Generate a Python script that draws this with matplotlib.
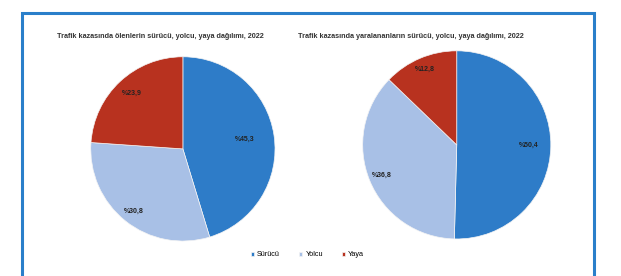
import matplotlib.pyplot as plt
from matplotlib.patches import Rectangle

plt.rcParams['font.family'] = ['Liberation Sans', 'DejaVu Sans']

# data
categories = ['Sürücü', 'Yolcu', 'Yaya']
olen = [45.3, 30.8, 23.9]
yaralanan = [50.4, 36.8, 12.8]
titles = ['Trafik kazasında ölenlerin sürücü, yolcu, yaya dağılımı, 2022',
          'Trafik kazasında yaralananların sürücü, yolcu, yaya dağılımı, 2022']
colors = ['#2e7cc8', '#a8c0e6', '#b8321f']

fig = plt.figure(figsize=(6.21, 2.76), dpi=100)
fig.patch.set_facecolor('white')

# blue frame
fig.add_artist(Rectangle((22 / 621, -0.05), 572 / 621, 1.05 - 13 / 276,
                         transform=fig.transFigure, fill=False,
                         edgecolor='#2a7fca', linewidth=2.2))

ax1 = fig.add_axes([0.143, 0.120, 0.303, 0.681])
ax2 = fig.add_axes([0.581, 0.127, 0.309, 0.696])

def draw_pie(ax, vals, dists):
    wedges, texts, autotexts = ax.pie(
        vals, colors=colors, startangle=90, counterclock=False,
        autopct=lambda p: '%' + f'{p:.1f}'.replace('.', ','),
        pctdistance=0.8, textprops={'fontsize': 5, 'fontweight': 'bold', 'color': '#222222'},
        wedgeprops={'linewidth': 0.5, 'edgecolor': '#f4f4f4'})
    for t, d in zip(autotexts, dists):
        x, y = t.get_position()
        r = (x ** 2 + y ** 2) ** 0.5
        t.set_position((x / r * d, y / r * d))
    ax.set_xlim(-1.02, 1.02)
    ax.set_ylim(-1.02, 1.02)
    ax.set_aspect('equal')
    return wedges

wedges = draw_pie(ax1, olen, [0.68, 0.86, 0.82])
draw_pie(ax2, yaralanan, [0.76, 0.86, 0.87])

fig.text(57 / 621, 1 - 37 / 276, titles[0], fontsize=5.2, fontweight='bold',
         color='#333333', va='center')
fig.text(298 / 621, 1 - 37 / 276, titles[1], fontsize=5.2, fontweight='bold',
         color='#333333', va='center')

fig.legend(wedges, categories, loc='center', bbox_to_anchor=(0.495, 1 - 255 / 276),
           ncol=3, frameon=False, fontsize=5.2, handlelength=0.5, handleheight=0.5,
           columnspacing=2.6, handletextpad=0.4)

fig.savefig('out.png', dpi=100)
